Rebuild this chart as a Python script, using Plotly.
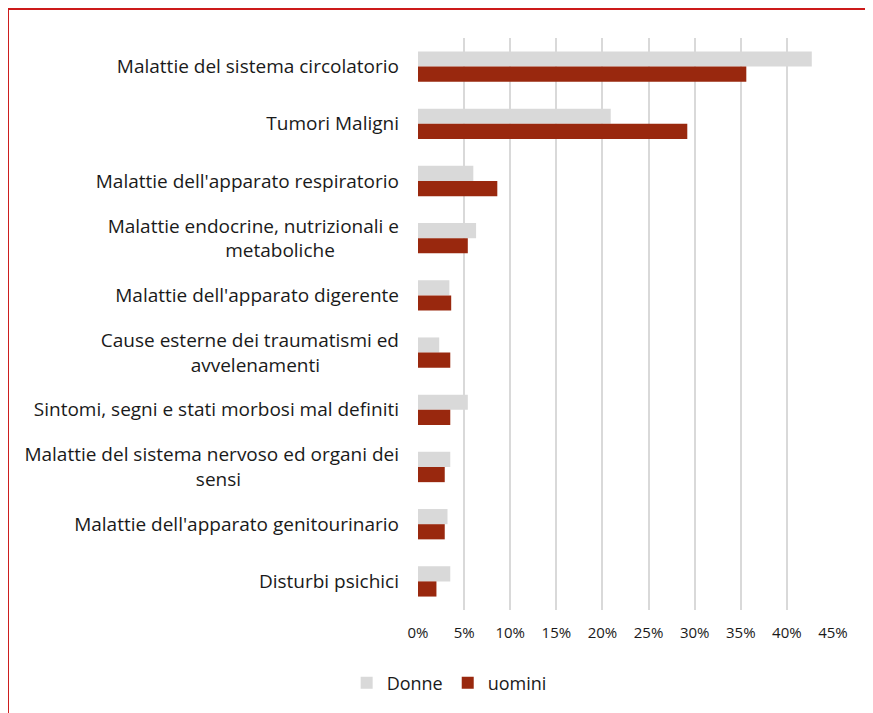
import plotly.graph_objects as go

# causes of death, top to bottom as in the chart
# (second lines padded with non-breaking spaces so they sit roughly centred)
pad = "\u00a0"
categories = [
    "Malattie del sistema circolatorio",
    "Tumori Maligni",
    "Malattie dell'apparato respiratorio",
    "Malattie endocrine, nutrizionali e<br>metaboliche" + pad * 13,
    "Malattie dell'apparato digerente",
    "Cause esterne dei traumatismi ed<br>avvelenamenti" + pad * 16,
    "Sintomi, segni e stati morbosi mal definiti",
    "Malattie del sistema nervoso ed organi dei<br>sensi" + pad * 32,
    "Malattie dell'apparato genitourinario",
    "Disturbi psichici",
]

# share of deaths (fraction)
donne = [0.427, 0.209, 0.060, 0.063, 0.034, 0.023, 0.054, 0.035, 0.032, 0.035]
uomini = [0.356, 0.292, 0.086, 0.054, 0.036, 0.035, 0.035, 0.029, 0.029, 0.020]

x_ticks = [0, 0.05, 0.10, 0.15, 0.20, 0.25, 0.30, 0.35, 0.40, 0.45]

font_family = "'Open Sans', Lato, sans-serif"

fig = go.Figure()

fig.add_trace(go.Bar(
    y=categories, x=donne, name="Donne", orientation="h",
    marker=dict(color="#d9d9d9", line=dict(width=0)),
))
fig.add_trace(go.Bar(
    y=categories, x=uomini, name="uomini", orientation="h",
    marker=dict(color="#99280e", line=dict(width=0)),
))

# page body adds an 8px offset, so the figure is 8px smaller than the window
fig.update_layout(
    width=865, height=705,
    barmode="group",
    bargap=0.47,
    bargroupgap=0.0,
    plot_bgcolor="white",
    paper_bgcolor="white",
    font=dict(family=font_family, size=19, color="#1a1a1a"),
    margin=dict(l=410, r=40, t=30, b=103),
    legend=dict(
        orientation="h",
        xref="container", x=0.51, xanchor="center",
        yref="container", y=0.0426, yanchor="middle",
        font=dict(size=18),
        itemwidth=30,
        traceorder="normal",
    ),
    showlegend=True,
)

fig.update_xaxes(
    range=[0, 0.45],
    tickvals=x_ticks,
    tickformat=".0%",
    showgrid=True, gridcolor="#d9d9d9", gridwidth=2,
    zeroline=False,
    showline=False,
    tickfont=dict(size=15),
    ticks="",
    ticklabelstandoff=12,
)
fig.update_yaxes(
    autorange="reversed",
    showgrid=False,
    showline=False,
    ticks="",
    ticklabelstandoff=18,
    tickfont=dict(size=19),
)

# red frame around the chart, running off the right and bottom edges
fig.add_shape(
    type="rect",
    xref="paper", yref="paper",
    x0=-0.988, x1=1.2, y0=-0.3, y1=1.0507,
    line=dict(color="#cc1a1a", width=2),
    fillcolor="rgba(0,0,0,0)",
    layer="below",
)

fig.write_html("out.html")
